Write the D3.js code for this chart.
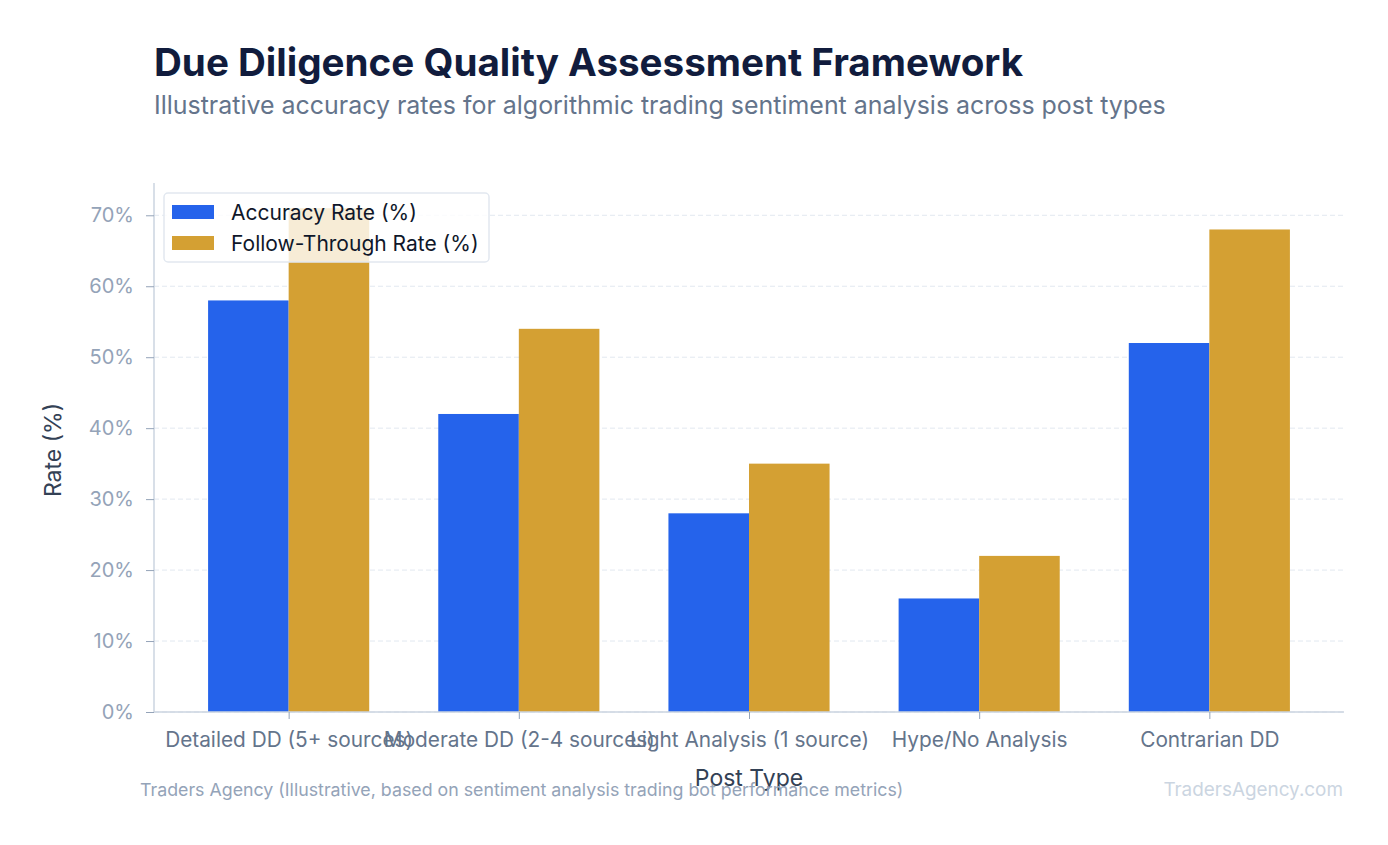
<!DOCTYPE html>
<html>
<head>
<meta charset="utf-8">
<script src="https://cdn.jsdelivr.net/npm/d3@7"></script>
<style>
  html, body { margin: 0; padding: 0; background: #fff; }
  svg { display: block; font-family: Inter, "Noto Sans", sans-serif; }
</style>
</head>
<body>
<svg id="chart" width="1388" height="845"></svg>
<script>
// chart data
const categories = [
  "Detailed DD (5+ sources)",
  "Moderate DD (2-4 sources)",
  "Light Analysis (1 source)",
  "Hype/No Analysis",
  "Contrarian DD"
];
const accuracyRate = [58, 42, 28, 16, 52];
const followThroughRate = [71, 54, 35, 22, 68];
const seriesNames = ["Accuracy Rate (%)", "Follow-Through Rate (%)"];
const yTicks = [0, 10, 20, 30, 40, 50, 60, 70];

const colors = ["#2563eb", "#d4a033"];

const margin = { top: 183, right: 44, bottom: 133, left: 154 },
  width = 1388 - margin.left - margin.right,
  height = 845 - margin.top - margin.bottom;

const barWidth = 0.35;
const yMax = d3.max(followThroughRate.concat(accuracyRate)) * 1.05;

const svg = d3.select("#chart");

// title + subtitle
svg.append("text")
  .attr("x", 154).attr("y", 76)
  .style("font-size", "38.6px").style("font-weight", 700)
  .style("fill", "#111c3d")
  .text("Due Diligence Quality Assessment Framework");

svg.append("text")
  .attr("x", 154).attr("y", 114)
  .style("font-size", "24.95px")
  .style("fill", "#64748b")
  .text("Illustrative accuracy rates for algorithmic trading sentiment analysis across post types");

const g = svg.append("g")
  .attr("transform", `translate(${margin.left},${margin.top})`);

// scales
const span = categories.length - 1 + 2 * barWidth;
const x = d3.scaleLinear()
  .domain([-barWidth - 0.05 * span, categories.length - 1 + barWidth + 0.05 * span])
  .range([0, width]);

const y = d3.scaleLinear().domain([0, yMax]).range([height, 0]);

// grid
g.append("g")
  .selectAll("line")
  .data(yTicks)
  .enter()
  .append("line")
  .attr("x1", 0).attr("x2", width)
  .attr("y1", d => y(d)).attr("y2", d => y(d))
  .style("stroke", "#e2e8f0")
  .style("stroke-width", 1)
  .style("stroke-dasharray", "5,3");

// bars
const series = [accuracyRate, followThroughRate];
series.forEach(function (values, s) {
  g.append("g")
    .selectAll("rect")
    .data(values)
    .enter()
    .append("rect")
    .attr("x", (d, i) => x(i - barWidth + s * barWidth))
    .attr("width", x(barWidth) - x(0))
    .attr("y", d => y(d))
    .attr("height", d => height - y(d))
    .style("fill", colors[s]);
});

// y axis
const yAxis = g.append("g")
  .call(d3.axisLeft(y).tickValues(yTicks).tickFormat(d => d + "%").tickSize(8).tickPadding(12));
yAxis.select(".domain").style("stroke", "#cbd5e1").style("stroke-width", 1.5)
  .attr("d", `M0,${height}V0`);
yAxis.selectAll(".tick line").style("stroke", "#94a3b8");
yAxis.selectAll(".tick text")
  .style("font-family", "Inter, sans-serif")
  .style("font-size", "20px")
  .style("fill", "#94a3b8");

// x axis
const xAxis = g.append("g")
  .attr("transform", `translate(0,${height})`)
  .call(d3.axisBottom(x).tickValues(d3.range(categories.length))
    .tickFormat(i => categories[i]).tickSize(7).tickPadding(13));
xAxis.select(".domain").style("stroke", "#cbd5e1").style("stroke-width", 1.5)
  .attr("d", `M0,0H${width}`);
xAxis.selectAll(".tick line").style("stroke", "#94a3b8");
xAxis.selectAll(".tick text")
  .style("font-family", "Inter, sans-serif")
  .style("font-size", "20.8px")
  .style("fill", "#64748b");

// axis titles
svg.append("text")
  .attr("transform", "translate(61,450) rotate(-90)")
  .attr("text-anchor", "middle")
  .style("font-size", "23px")
  .style("fill", "#334155")
  .text("Rate (%)");

svg.append("text")
  .attr("x", margin.left + width / 2).attr("y", 786)
  .attr("text-anchor", "middle")
  .style("font-size", "23px")
  .style("fill", "#334155")
  .text("Post Type");

// legend
const legend = svg.append("g").attr("transform", "translate(164,193)");
legend.append("rect")
  .attr("width", 325).attr("height", 69)
  .attr("rx", 4)
  .style("fill", "rgba(255,255,255,0.8)")
  .style("stroke", "#e2e8f0")
  .style("stroke-width", 1.5);

seriesNames.forEach(function (name, i) {
  legend.append("rect")
    .attr("x", 8).attr("y", 12 + i * 31)
    .attr("width", 42).attr("height", 14)
    .style("fill", colors[i]);
  legend.append("text")
    .attr("x", 67).attr("y", 26.5 + i * 31)
    .style("font-size", "21px")
    .style("fill", "#0f172a")
    .text(name);
});

// footer
svg.append("text")
  .attr("x", 140).attr("y", 796)
  .style("font-size", "17.8px")
  .style("fill", "#94a3b8")
  .text("Traders Agency (Illustrative, based on sentiment analysis trading bot performance metrics)");

svg.append("text")
  .attr("x", 1343).attr("y", 796)
  .attr("text-anchor", "end")
  .style("font-size", "18.9px")
  .style("fill", "#cbd5e1")
  .text("TradersAgency.com");
</script>
</body>
</html>
